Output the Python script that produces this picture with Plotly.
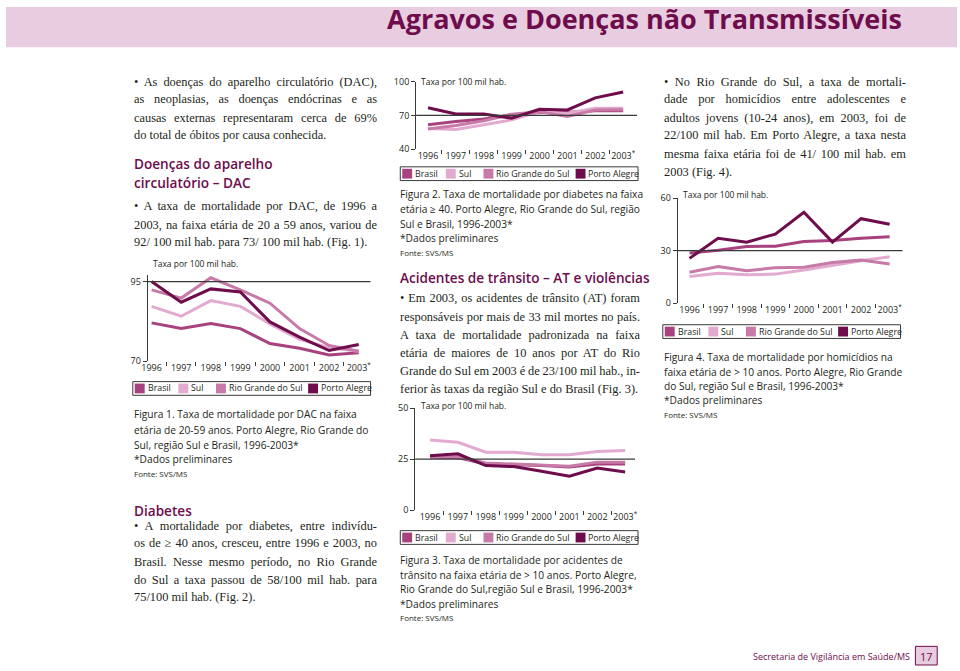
import json
import plotly.graph_objects as go

W, H = 960, 671

years = [1996, 1997, 1998, 1999, 2000, 2001, 2002, 2003]
year_labels = ["1996", "1997", "1998", "1999", "2000", "2001", "2002", "2003<sup>*</sup>"]
series_names = ["Brasil", "Sul", "Rio Grande do Sul", "Porto Alegre"]

# Fig 1 - DAC, 20-59 anos
dac_brasil = [82.0, 80.2, 81.8, 80.2, 75.5, 74.0, 71.9, 72.6]
dac_sul = [87.2, 84.1, 89.0, 87.2, 81.7, 76.8, 74.2, 73.1]
dac_rs = [92.4, 89.8, 96.2, 92.4, 88.2, 80.2, 74.9, 73.1]
dac_poa = [95.0, 88.5, 92.7, 91.7, 82.3, 77.5, 73.3, 75.2]

# Fig 2 - diabetes, >= 40 anos
dia_brasil = [61.7, 64.6, 66.7, 70.4, 72.5, 72.8, 74.2, 74.2]
dia_sul = [58.3, 57.4, 61.7, 66.0, 73.3, 71.9, 76.2, 76.2]
dia_rs = [58.0, 61.0, 65.2, 71.0, 73.3, 69.0, 74.8, 75.0]
dia_poa = [76.8, 71.3, 71.3, 67.5, 75.4, 74.8, 85.5, 90.7]

# Fig 3 - acidentes de transito, > 10 anos
at_brasil = [25.8, 25.8, 22.6, 22.3, 21.8, 21.1, 22.6, 22.6]
at_sul = [34.4, 33.2, 28.4, 28.4, 27.1, 27.1, 28.7, 29.2]
at_rs = [25.8, 26.3, 23.1, 22.6, 22.3, 21.5, 23.5, 23.4]
at_poa = [26.6, 27.6, 21.8, 21.3, 19.0, 16.6, 20.6, 18.7]

# Fig 4 - homicidios, > 10 anos
hom_brasil = [28.7, 30.2, 32.4, 32.6, 35.2, 35.8, 37.1, 38.0]
hom_sul = [15.3, 17.1, 16.2, 16.6, 19.0, 21.8, 24.2, 26.5]
hom_rs = [17.7, 20.9, 18.5, 20.3, 20.5, 23.3, 24.6, 22.4]
hom_poa = [25.6, 37.1, 34.9, 39.5, 52.0, 34.9, 48.3, 45.1]

colors = ["#a8427f", "#e3aad0", "#c77aa8", "#6e0c4c"]
PURPLE = "#6e0c4c"
TEXT = "#231f20"
AXIS = "#3a3a3a"
SERIF = "Liberation Serif"
SANS = "Open Sans"


def px(x):
    return x / W


def py(y):
    return 1 - y / H


fig = go.Figure()
shapes = []
annotations = []
justify = {}


def text(x, y, s, size=12.4, family=SERIF, color=TEXT, anchor="left", weight=None,
         width=None):
    f = dict(size=size, family=family, color=color)
    if weight:
        f["weight"] = weight
    if width:
        justify[len(annotations)] = width
    annotations.append(dict(x=px(x), y=py(y), xref="paper", yref="paper", text=s,
                            showarrow=False, xanchor=anchor, yanchor="middle",
                            font=f, align="left", borderpad=0))


def paragraph(x, lines, width):
    for k, (y, s) in enumerate(lines):
        text(x, y - 2, s, width=width if k < len(lines) - 1 else None)


charts = [
    dict(data=[dac_brasil, dac_sul, dac_rs, dac_poa], x0=143, x1=368,
         xr=[1995.866, 2003.40], lo=(70, 361), hi=(95, 280), top=97.2,
         ticks=[70, 95], ref=95, legend=(128, 389), taxa=(147, 262)),
    dict(data=[dia_brasil, dia_sul, dia_rs, dia_poa], x0=414, x1=637,
         xr=[1995.574, 2003.497], lo=(40, 145), hi=(100, 76), top=100,
         ticks=[40, 70, 100], ref=70, legend=(398, 170), taxa=(418, 76)),
    dict(data=[at_brasil, at_sul, at_rs, at_poa], x0=413, x1=635,
         xr=[1995.467, 2003.355], lo=(0, 513), hi=(50, 409), top=50,
         ticks=[0, 25, 50], ref=25, legend=(398, 541), taxa=(418, 406)),
    dict(data=[hom_brasil, hom_sul, hom_rs, hom_poa], x0=678, x1=905,
         xr=[1995.584, 2003.45], lo=(0, 302), hi=(60, 195), top=60,
         ticks=[0, 30, 60], ref=30, legend=(663, 331), taxa=(682, 191)),
]

layout_axes = {}
for i, c in enumerate(charts, start=1):
    xa = "x" if i == 1 else f"x{i}"
    ya = "y" if i == 1 else f"y{i}"
    (vlo, plo), (vhi, phi) = c["lo"], c["hi"]
    scale = (plo - phi) / (vhi - vlo)
    ptop = plo - (c["top"] - vlo) * scale
    for name, vals, col in zip(series_names, c["data"], colors):
        fig.add_trace(go.Scatter(x=years, y=vals, mode="lines", name=name,
                                 line=dict(color=col, width=3),
                                 xaxis=xa, yaxis=ya, showlegend=False,
                                 hoverinfo="skip"))
    layout_axes["xaxis" if i == 1 else f"xaxis{i}"] = dict(
        domain=[px(c["x0"]), px(c["x1"])], range=c["xr"], anchor=ya,
        showgrid=False, zeroline=False, showline=False,
        tickmode="array", tickvals=years, ticktext=year_labels, ticks="",
        tickfont=dict(size=9, family=SANS, color=TEXT),
        minor=dict(tickmode="array", tickvals=[y + 0.5 for y in years[:-1]],
                   ticks="outside", ticklen=4, tickcolor=AXIS, tickwidth=1),
        fixedrange=True)
    layout_axes["yaxis" if i == 1 else f"yaxis{i}"] = dict(
        domain=[py(plo), py(ptop)], range=[vlo, c["top"]], anchor=xa,
        showgrid=False, zeroline=False, showline=True, linecolor=AXIS, linewidth=1,
        tickmode="array", tickvals=c["ticks"], ticks="outside", ticklen=4,
        tickcolor=AXIS, tickfont=dict(size=9, family=SANS, color=TEXT),
        fixedrange=True)
    shapes.append(dict(type="line", xref=f"{xa} domain", yref=ya, x0=0, x1=1,
                       y0=c["ref"], y1=c["ref"], line=dict(color=AXIS, width=1.2)))
    tx, ty = c["taxa"]
    text(tx, ty, "Taxa por 100 mil hab.", size=8.5, family=SANS)
    bx, by = c["legend"]
    shapes.append(dict(type="rect", xref="paper", yref="paper",
                       x0=px(bx), x1=px(bx + 240), y0=py(by + 7), y1=py(by - 7),
                       line=dict(color=AXIS, width=1), fillcolor="rgba(0,0,0,0)"))
    for off, name, col in zip([2, 46, 84, 177], series_names, colors):
        shapes.append(dict(type="rect", xref="paper", yref="paper",
                           x0=px(bx + off), x1=px(bx + off + 10),
                           y0=py(by + 5), y1=py(by - 5), line=dict(width=0),
                           fillcolor=col))
        text(bx + off + 12, by, name, size=8.8, family=SANS)

# header band
shapes.append(dict(type="rect", xref="paper", yref="paper", x0=0, x1=1,
                   y0=py(41), y1=1, line=dict(width=0), fillcolor="#e8cde0", layer="below"))
text(905, 12, "Agravos e Doenças não Transmissíveis", size=27, family=SANS,
     color=PURPLE, anchor="right", weight="bold")

HEAD = 13.6
CAP = 10.2

# left column
L, LW = 128, 243
paragraph(L, [(78, "• As doenças do aparelho circulatório (DAC),"),
              (96, "as neoplasias, as doenças endócrinas e as"),
              (115, "causas externas representaram cerca de 69%"),
              (133, "do total de óbitos por causa conhecida.")], LW)
text(L, 160, "Doenças do aparelho", size=HEAD, family=SANS, color=PURPLE, weight=600)
text(L, 179, "circulatório – DAC", size=HEAD, family=SANS, color=PURPLE, weight=600)
paragraph(L, [(205, "• A taxa de mortalidade por DAC, de 1996 a"),
              (224, "2003, na faixa etária de 20 a 59 anos, variou de"),
              (242, "92/ 100 mil hab. para 73/ 100 mil hab. (Fig. 1).")], LW)
for y, s in [(415, "Figura 1. Taxa de mortalidade por DAC na faixa"),
             (431, "etária de 20-59 anos. Porto Alegre, Rio Grande do"),
             (447, "Sul, região Sul e Brasil, 1996-2003*"),
             (461, "*Dados preliminares")]:
    text(L, y, s, size=CAP, family=SANS)
text(L, 476, "Fonte: SVS/MS", size=8, family=SANS)
text(L, 513, "Diabetes", size=HEAD, family=SANS, color=PURPLE, weight=600)
paragraph(L, [(531, "• A mortalidade por diabetes, entre indivídu-"),
              (549, "os de ≥ 40 anos, cresceu, entre 1996 e 2003, no"),
              (568, "Brasil. Nesse mesmo período, no Rio Grande"),
              (586, "do Sul a taxa passou de 58/100 mil hab. para"),
              (604, "75/100 mil hab. (Fig. 2).")], LW)

# middle column
M, MW = 397, 240
for y, s in [(191, "Figura 2. Taxa de mortalidade por diabetes na faixa"),
             (206, "etária ≥ 40. Porto Alegre, Rio Grande do Sul, região"),
             (221, "Sul e Brasil, 1996-2003*"),
             (236, "*Dados preliminares")]:
    text(M, y, s, size=CAP, family=SANS)
text(M, 250, "Fonte: SVS/MS", size=8, family=SANS)
text(M, 276, "Acidentes de trânsito – AT e violências", size=HEAD, family=SANS,
     color=PURPLE, weight=600)
paragraph(M, [(299, "• Em 2003, os acidentes de trânsito (AT) foram"),
              (318, "responsáveis por mais de 33 mil mortes no país."),
              (336, "A taxa de mortalidade padronizada na faixa"),
              (355, "etária de maiores de 10 anos por AT do Rio"),
              (373, "Grande do Sul em 2003 é de 23/100 mil hab., in-"),
              (392, "ferior às taxas da região Sul e do Brasil (Fig. 3).")], MW)
for y, s in [(564, "Figura 3. Taxa de mortalidade por acidentes de"),
             (579, "trânsito na faixa etária de > 10 anos. Porto Alegre,"),
             (594, "Rio Grande do Sul,região Sul e Brasil, 1996-2003*"),
             (609, "*Dados preliminares")]:
    text(M, y, s, size=CAP, family=SANS)
text(M, 623, "Fonte: SVS/MS", size=8, family=SANS)

# right column
R, RW = 663, 242
paragraph(R, [(78, "• No Rio Grande do Sul, a taxa de mortali-"),
              (96, "dade por homicídios entre adolescentes e"),
              (115, "adultos jovens (10-24 anos), em 2003, foi de"),
              (133, "22/100 mil hab. Em Porto Alegre, a taxa nesta"),
              (152, "mesma faixa etária foi de 41/ 100 mil hab. em"),
              (170, "2003 (Fig. 4).")], RW)
for y, s in [(357, "Figura 4. Taxa de mortalidade por homicídios na"),
             (372, "faixa etária de > 10 anos. Porto Alegre, Rio Grande"),
             (386, "do Sul, região Sul e Brasil, 1996-2003*"),
             (401, "*Dados preliminares")]:
    text(R, y, s, size=CAP, family=SANS)
text(R, 416, "Fonte: SVS/MS", size=8, family=SANS)

# footer
text(914, 662, "Secretaria de Vigilância em Saúde/MS", size=9, family=SANS,
     color=PURPLE, anchor="right")
shapes.append(dict(type="rect", xref="paper", yref="paper", x0=px(918), x1=px(940),
                   y0=py(671), y1=py(652), line=dict(color=PURPLE, width=1),
                   fillcolor="#e8cde0"))
text(929, 662, "17", size=11, family=SANS, color=PURPLE, anchor="center")

fig.update_layout(width=W, height=H, margin=dict(l=0, r=0, t=0, b=0),
                  paper_bgcolor="white", plot_bgcolor="rgba(0,0,0,0)",
                  shapes=shapes, annotations=annotations, showlegend=False,
                  **layout_axes)

js = """
document.documentElement.style.margin='0';
document.body.style.margin='0';
document.body.style.overflow='hidden';
var gd = document.getElementById('{plot_id}');
var J = JUSTIFY;
Object.keys(J).forEach(function(k){
  var t = gd.querySelector('.annotation[data-index="' + k + '"] text.annotation-text');
  if (!t) return;
  var n = (t.textContent.match(/ /g) || []).length;
  if (!n) return;
  var w = t.getComputedTextLength();
  t.style.wordSpacing = ((J[k] - w) / n) + 'px';
});
""".replace("JUSTIFY", json.dumps(justify))

fig.write_html("out.html", config={"displayModeBar": False}, post_script=js)
